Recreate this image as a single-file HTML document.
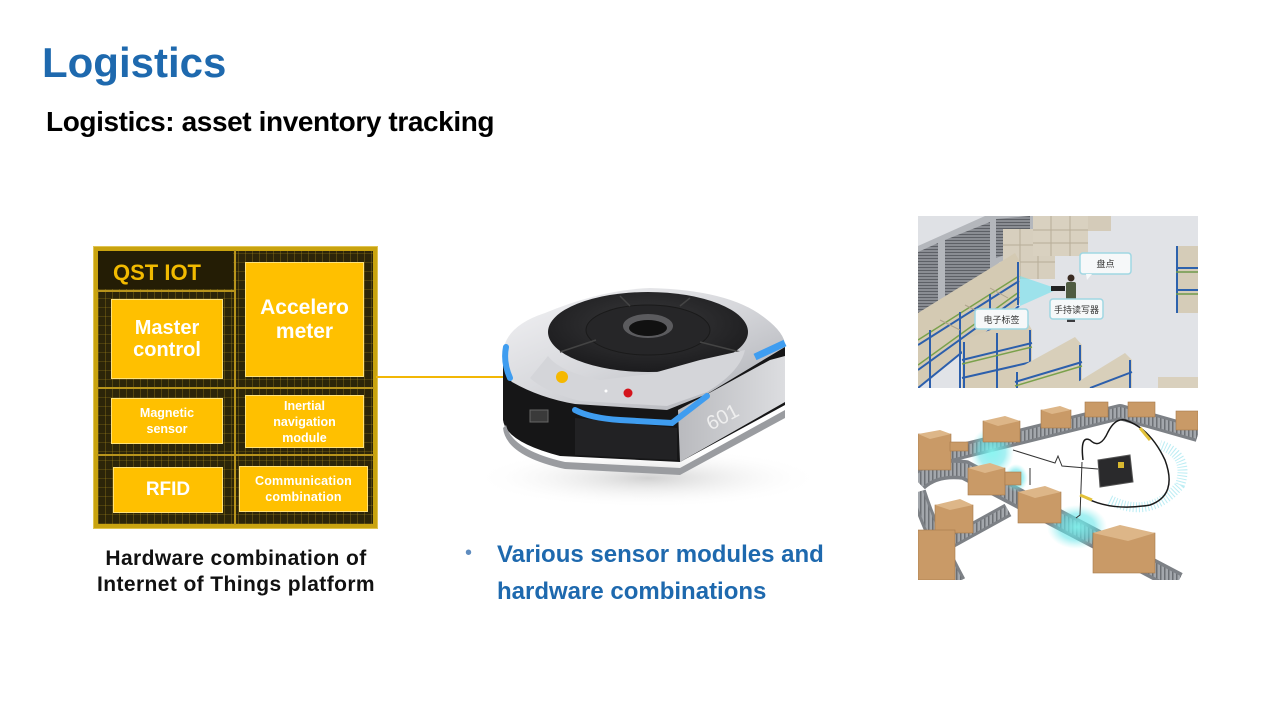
<!DOCTYPE html>
<html>
<head>
<meta charset="utf-8">
<style>
html,body{margin:0;padding:0;background:#fff;}
body{width:1280px;height:720px;position:relative;overflow:hidden;font-family:"Liberation Sans","Noto Sans CJK SC",sans-serif;}
.abs{position:absolute;}
.t1{left:42px;top:38px;font-size:42px;font-weight:bold;color:#1E69AE;line-height:50px;white-space:nowrap;}
.t2{left:46px;top:104px;font-size:28px;font-weight:bold;color:#000;letter-spacing:-0.4px;line-height:36px;white-space:nowrap;}
.cap{left:80px;top:546px;width:312px;text-align:center;font-size:21px;font-weight:bold;color:#111;line-height:26px;letter-spacing:0.4px;}
.bul{left:497px;top:536px;font-size:24px;font-weight:bold;color:#1E69AE;line-height:37px;white-space:nowrap;}
.dot{left:465px;top:540px;font-size:20px;color:#5f8cbf;line-height:26px;}
.chip{left:94px;top:247px;width:283px;height:281px;box-sizing:border-box;border:4px solid #c9a30f;
 background-color:#2c2509;
 background-image:
  repeating-linear-gradient(90deg, rgba(190,155,30,0.28) 0 1px, transparent 1px 7px),
  repeating-linear-gradient(0deg, rgba(190,155,30,0.22) 0 1px, transparent 1px 9px);
 box-shadow:0 0 0 1px #e0c451;}
.ln{position:absolute;background:#b8941c;}
.bx{position:absolute;background:#FFC000;border:1px solid #ffe27a;box-sizing:border-box;color:#fff;font-weight:bold;
 display:flex;align-items:center;justify-content:center;text-align:center;}
.qst{left:113px;top:260px;font-size:22px;font-weight:bold;color:#F2BA00;line-height:26px;white-space:nowrap;}
</style>
</head>
<body>

<div class="abs t1">Logistics</div>
<div class="abs t2">Logistics: asset inventory tracking</div>

<!-- chip -->
<div class="abs chip"></div>
<div class="ln" style="left:234px;top:250px;width:2px;height:275px;"></div>
<div class="ln" style="left:97px;top:290px;width:138px;height:2px;"></div>
<div class="ln" style="left:97px;top:387px;width:277px;height:2px;"></div>
<div class="ln" style="left:97px;top:454px;width:277px;height:2px;"></div>
<div class="abs" style="left:98px;top:251px;width:135px;height:38px;background:#241d05;"></div>
<div class="abs qst">QST IOT</div>

<div class="bx" style="left:111px;top:299px;width:112px;height:80px;font-size:20px;line-height:22px;">Master<br>control</div>
<div class="bx" style="left:245px;top:262px;width:119px;height:115px;font-size:21px;line-height:24px;">Accelero<br>meter</div>
<div class="bx" style="left:111px;top:398px;width:112px;height:46px;font-size:12.5px;line-height:16px;">Magnetic<br>sensor</div>
<div class="bx" style="left:245px;top:395px;width:119px;height:53px;font-size:12.5px;line-height:16px;">Inertial<br>navigation<br>module</div>
<div class="bx" style="left:113px;top:467px;width:110px;height:46px;font-size:19px;">RFID</div>
<div class="bx" style="left:239px;top:466px;width:129px;height:46px;font-size:12.5px;line-height:16px;letter-spacing:0.2px;">Communication<br>combination</div>

<svg class="abs" style="left:0;top:0" width="1280" height="720" viewBox="0 0 1280 720">
 <defs>
  <radialGradient id="shadow" cx="50%" cy="50%" r="50%">
   <stop offset="0" stop-color="#bdbdbd" stop-opacity="0.7"/>
   <stop offset="1" stop-color="#ffffff" stop-opacity="0"/>
  </radialGradient>
  <linearGradient id="silver" x1="0" y1="0" x2="1" y2="1">
   <stop offset="0" stop-color="#f4f4f6"/>
   <stop offset="0.5" stop-color="#d6d7db"/>
   <stop offset="1" stop-color="#a9abb1"/>
  </linearGradient>
  <linearGradient id="silver2" x1="0" y1="0" x2="1" y2="0">
   <stop offset="0" stop-color="#b9babe"/>
   <stop offset="1" stop-color="#dcdde0"/>
  </linearGradient>
  <radialGradient id="disc" cx="50%" cy="40%" r="60%">
   <stop offset="0" stop-color="#3a3a3c"/>
   <stop offset="1" stop-color="#1c1c1e"/>
  </radialGradient>
  <radialGradient id="glow" cx="50%" cy="50%" r="50%">
   <stop offset="0" stop-color="#7ff5f0" stop-opacity="0.9"/>
   <stop offset="0.6" stop-color="#5fe3e8" stop-opacity="0.55"/>
   <stop offset="1" stop-color="#8ff0f0" stop-opacity="0"/>
  </radialGradient>
  <pattern id="shut" width="3" height="3" patternUnits="userSpaceOnUse">
   <rect width="3" height="3" fill="#8a8d93"/>
   <rect width="3" height="1" fill="#5d6066"/>
  </pattern>
  <pattern id="roll" width="4" height="4" patternUnits="userSpaceOnUse">
   <rect width="4" height="4" fill="#a3a7ac"/>
   <rect width="1.5" height="4" fill="#6c7075"/>
  </pattern>
  <clipPath id="c1"><rect x="918" y="216" width="280" height="172"/></clipPath>
  <clipPath id="c2"><rect x="918" y="400" width="280" height="180"/></clipPath>
 </defs>

 <!-- connector -->
 <line x1="376" y1="377" x2="562" y2="377" stroke="#F2B705" stroke-width="2"/>

 <!-- ROBOT -->
 <ellipse cx="648" cy="478" rx="175" ry="30" fill="url(#shadow)"/>
 <path d="M503,355 L503,420 Q506,442 560,456 L680,462 L785,405 L785,345 Z" fill="#161617"/>
 <path d="M506,425 Q512,450 565,462 L680,468 L785,410 L785,418 L680,475 L565,469 Q506,456 503,428 Z" fill="#9a9ca0"/>
 <path d="M575,418 L677,428 L677,460 L575,455 Z" fill="#222224"/>
 <rect x="530" y="410" width="18" height="12" fill="#3a3a3a" stroke="#666" stroke-width="1"/>
 <path d="M678,410 L770,360 L785,356 L785,402 L680,462 Z" fill="url(#silver2)"/>
 <text x="706" y="425" font-family="Liberation Sans, sans-serif" font-size="20" fill="#eeeeee" transform="rotate(-28 720 418)">601</text>
 <path d="M503,353 Q505,326 545,313 Q600,290 650,288 Q730,290 765,318 Q786,334 785,347 L760,362 L707,394 L667,410 L575,404 Q540,398 512,382 Q503,374 503,353 Z" fill="url(#silver)"/>
 <ellipse cx="648" cy="332" rx="100" ry="40" fill="url(#disc)"/>
 <ellipse cx="648" cy="330" rx="62" ry="25" fill="#262628" stroke="#1a1a1a" stroke-width="1"/>
 <ellipse cx="648" cy="326" rx="25" ry="12" fill="#5b5b5e"/>
 <ellipse cx="648" cy="328" rx="19" ry="8" fill="#111"/>
 <path d="M560,352 L596,340 M700,342 L740,352 M620,296 L630,306 M690,298 L680,306" stroke="#444" stroke-width="1.5"/>
 <path d="M548,356 Q560,372 600,380 L650,374 L700,360 L745,350 Q740,372 707,392 L667,406 L580,401 Q545,392 530,378 Z" fill="#d4d5d9"/>
 <path d="M506,347 Q503,362 510,378" stroke="#3f9df0" stroke-width="6" fill="none" stroke-linecap="round"/>
 <path d="M575,410 Q590,418 620,420 L672,423 L707,396" stroke="#3f9df0" stroke-width="6" fill="none" stroke-linecap="round"/>
 <path d="M755,357 L785,343" stroke="#3f9df0" stroke-width="7" fill="none"/>
 <circle cx="628" cy="393" r="4.5" fill="#d4141c"/>
 <circle cx="606" cy="391" r="1.5" fill="#fff"/>
 <circle cx="562" cy="377" r="6" fill="#F5B800"/>

 <!-- TOP RIGHT IMAGE: warehouse -->
 <g clip-path="url(#c1)">
  <rect x="918" y="216" width="280" height="172" fill="#e1e3e7"/>
  <polygon points="918,216 1040,216 1040,250 1000,262 918,330" fill="#b4b7bc"/>
  <polygon points="918,216 985,216 918,246" fill="#dfe1e5"/>
  <polygon points="918,252 938,243 938,306 918,318" fill="url(#shut)"/>
  <polygon points="945,240 990,222 990,286 945,305" fill="url(#shut)"/>
  <polygon points="996,219 1030,216 1030,246 996,258" fill="url(#shut)"/>
  <rect x="1003" y="229" width="52" height="50" fill="#d7cfbe"/>
  <path d="M1003,245 H1055 M1003,262 H1055 M1020,229 V279 M1038,229 V279" stroke="#b7ad98" stroke-width="1"/>
  <rect x="1033" y="216" width="55" height="40" fill="#d9d1c0"/>
  <path d="M1033,230 H1088 M1033,243 H1088 M1051,216 V256 M1070,216 V256" stroke="#b7ad98" stroke-width="1"/>
  <rect x="1088" y="216" width="23" height="15" fill="#d4cbb9"/>
  <rect x="1176" y="246" width="22" height="67" fill="#d5ccb8"/>
  <path d="M1177,246 V313 M1176,268 H1198 M1176,290 H1198" stroke="#2d62ad" stroke-width="2"/>
  <path d="M1176,272 H1198 M1176,294 H1198" stroke="#6f9a4a" stroke-width="1.5"/>
  <polygon points="918,313 1015,253 1020,262 1020,303 918,388" fill="#d4cab3"/>
  <path d="M918,340 L1019,276 M918,365 L1019,292" stroke="#7aa14b" stroke-width="1.5"/>
  <path d="M918,345 L1019,281 M918,370 L1019,297 M918,388 L1019,306" stroke="#2c5fac" stroke-width="2"/>
  <path d="M930,330 V388 M960,312 V388 M990,294 V320 M1018,262 V305" stroke="#2c5fac" stroke-width="2"/>
  <path d="M940,320 L960,330 M965,305 L985,315 M990,288 L1008,298" stroke="#aea28b" stroke-width="1"/>
  <polygon points="962,340 1025,318 1032,330 1032,388 962,388" fill="#d6ccb6"/>
  <path d="M962,360 L1032,343 M962,378 L1032,362" stroke="#2c5fac" stroke-width="2"/>
  <path d="M964,342 V388 M1030,330 V388 M997,333 V388" stroke="#2c5fac" stroke-width="2"/>
  <path d="M962,364 L1032,347" stroke="#7aa14b" stroke-width="1.5"/>
  <polygon points="1015,370 1075,337 1082,345 1082,388 1015,388" fill="#d8cfba"/>
  <path d="M1015,382 L1082,362 M1080,345 V388 M1017,372 V388" stroke="#2c5fac" stroke-width="2"/>
  <path d="M1015,386 L1082,366" stroke="#7aa14b" stroke-width="1.5"/>
  <polygon points="1068,388 1125,353 1132,360 1132,388" fill="#d8cfba"/>
  <path d="M1130,360 V388 M1090,388 L1132,372" stroke="#2c5fac" stroke-width="2"/>
  <rect x="1158" y="377" width="40" height="11" fill="#d9d0bd"/>
  <polygon points="1058,289 1020,276 1020,306" fill="#6fe1ee" opacity="0.6"/>
  <circle cx="1071" cy="278" r="3.5" fill="#3a2b22"/>
  <rect x="1066" y="282" width="10" height="18" rx="2" fill="#4f5c42"/>
  <rect x="1051" y="286" width="14" height="5" fill="#222"/>
  <rect x="1067" y="300" width="8" height="22" fill="#3b3b3e"/>
  <rect x="1080" y="253" width="51" height="21" rx="3" fill="#f6f8f9" stroke="#9fd7e3" stroke-width="1.5"/>
  <polygon points="1086,274 1092,274 1087,280" fill="#f6f8f9"/>
  <text x="1105.5" y="267" text-anchor="middle" font-family="Noto Sans CJK SC, sans-serif" font-size="9" fill="#333">盘点</text>
  <rect x="1050" y="299" width="53" height="20" rx="3" fill="#f6f8f9" stroke="#9fd7e3" stroke-width="1.5"/>
  <text x="1076.5" y="313" text-anchor="middle" font-family="Noto Sans CJK SC, sans-serif" font-size="9" fill="#333">手持读写器</text>
  <rect x="975" y="309" width="53" height="20" rx="3" fill="#f6f8f9" stroke="#9fd7e3" stroke-width="1.5"/>
  <text x="1001.5" y="323" text-anchor="middle" font-family="Noto Sans CJK SC, sans-serif" font-size="9" fill="#333">电子标签</text>
 </g>

 <!-- BOTTOM RIGHT IMAGE: conveyor -->
 <g clip-path="url(#c2)">
  <rect x="918" y="400" width="280" height="180" fill="#ffffff"/>
  <path d="M918,462 L1120,412 L1198,434" stroke="#7d8186" stroke-width="16" fill="none" stroke-linejoin="round"/>
  <path d="M918,462 L1120,412 L1198,434" stroke="url(#roll)" stroke-width="10" fill="none" stroke-linejoin="round"/>
  <path d="M918,482 Q935,466 965,470 L1178,582" stroke="#7d8186" stroke-width="20" fill="none"/>
  <path d="M918,482 Q935,466 965,470 L1178,582" stroke="url(#roll)" stroke-width="13" fill="none"/>
  <path d="M918,492 Q930,530 958,582" stroke="#7d8186" stroke-width="16" fill="none"/>
  <path d="M918,492 Q930,530 958,582" stroke="url(#roll)" stroke-width="10" fill="none"/>
  <path d="M950,542 L1008,510" stroke="#7d8186" stroke-width="14" fill="none"/>
  <path d="M950,542 L1008,510" stroke="url(#roll)" stroke-width="8" fill="none"/>
  <ellipse cx="992" cy="452" rx="22" ry="25" fill="url(#glow)"/>
  <ellipse cx="1016" cy="478" rx="12" ry="14" fill="url(#glow)"/>
  <ellipse cx="1077" cy="527" rx="30" ry="22" fill="url(#glow)"/>
  <path d="M1110,500 Q1150,520 1180,485 Q1190,455 1160,445" stroke="#9fe6ef" stroke-width="10" fill="none" stroke-dasharray="1 2" opacity="0.7"/>
  <g fill="#c99a67" stroke="#a77a4b" stroke-width="0.6">
   <rect x="918" y="434" width="33" height="36"/>
   <rect x="950" y="442" width="18" height="9"/>
   <rect x="983" y="421" width="37" height="21"/>
   <rect x="1041" y="410" width="30" height="18"/>
   <rect x="1085" y="402" width="23" height="15"/>
   <rect x="1128" y="402" width="27" height="15"/>
   <rect x="1176" y="411" width="22" height="19"/>
   <rect x="968" y="468" width="37" height="27"/>
   <rect x="1005" y="472" width="16" height="13"/>
   <rect x="1018" y="492" width="43" height="31"/>
   <rect x="935" y="505" width="38" height="28"/>
   <rect x="1093" y="533" width="62" height="40"/>
   <rect x="918" y="530" width="37" height="50"/>
  </g>
  <g fill="#ddb688">
   <polygon points="918,434 940,430 951,434 930,439"/>
   <polygon points="983,421 1005,416 1020,421 998,426"/>
   <polygon points="1041,410 1060,406 1071,410 1052,414"/>
   <polygon points="968,468 990,463 1005,468 985,473"/>
   <polygon points="1018,492 1045,486 1061,492 1035,498"/>
   <polygon points="935,505 960,499 973,505 950,510"/>
   <polygon points="1093,533 1120,525 1155,533 1128,541"/>
  </g>
  <path d="M1013,450 L1055,463 L1058,456 L1062,466 L1098,469" stroke="#333" stroke-width="1" fill="none"/>
  <path d="M1030,468 L1030,485 M1082,462 L1080,515 L1076,518" stroke="#333" stroke-width="1" fill="none"/>
  <path d="M1083,460 Q1080,435 1090,440 Q1100,450 1108,432 Q1115,418 1125,420 Q1150,428 1165,460 Q1178,495 1150,505 Q1110,512 1082,496" stroke="#1a1a1a" stroke-width="1.5" fill="none"/>
  <path d="M1140,428 L1150,440" stroke="#e3c23a" stroke-width="3"/>
  <path d="M1080,495 L1092,500" stroke="#e3c23a" stroke-width="3"/>
  <polygon points="1098,460 1130,455 1133,482 1100,487" fill="#2a2a2c" stroke="#555" stroke-width="1"/>
  <rect x="1118" y="462" width="6" height="6" fill="#d8b830"/>
 </g>
</svg>

<div class="abs cap">Hardware combination of<br>Internet of Things platform</div>
<div class="abs dot">•</div>
<div class="abs bul">Various sensor modules and<br>hardware combinations</div>

</body>
</html>
